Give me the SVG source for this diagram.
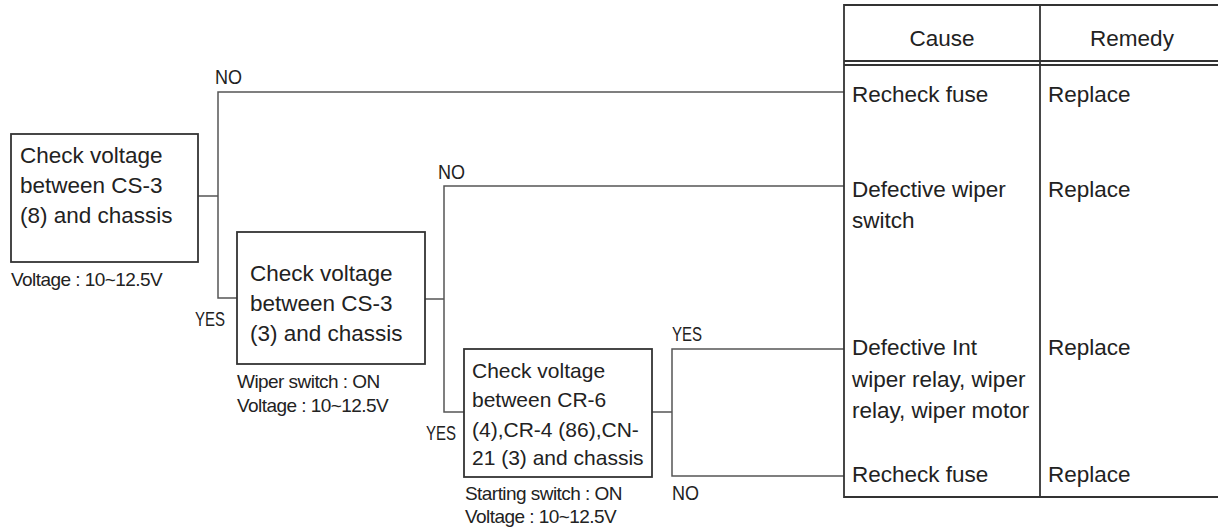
<svg xmlns="http://www.w3.org/2000/svg" width="1218" height="528" viewBox="0 0 1218 528">
<style>
text{font-family:"Liberation Sans",Arial,sans-serif;fill:#222}
.box{fill:#fff;stroke:#333;stroke-width:1.8}
.bt{font-size:22.5px}
.bt3{font-size:21px}
.sm{font-size:19px;letter-spacing:-0.55px}
.lb{font-size:20px}
.tt{font-size:22.5px}
.ln{fill:none;stroke:#555;stroke-width:1.5}
.tb{fill:none;stroke:#333;stroke-width:1.8}
</style>
<rect width="1218" height="528" fill="#fff"/>
<g id="connectors">
<polyline class="ln" points="198,196 218,196"/>
<polyline class="ln" points="844,92 218,92 218,298 237,298"/>
<polyline class="ln" points="425,299 444,299"/>
<polyline class="ln" points="844,186 444,186 444,412 464,412"/>
<polyline class="ln" points="652,412 672,412"/>
<polyline class="ln" points="844,349 672,349 672,476 844,476"/>
<text class="lb" x="215" y="84" textLength="27" lengthAdjust="spacingAndGlyphs">NO</text>
<text class="lb" x="195" y="326" textLength="30" lengthAdjust="spacingAndGlyphs">YES</text>
<text class="lb" x="438" y="179" textLength="27" lengthAdjust="spacingAndGlyphs">NO</text>
<text class="lb" x="426" y="440" textLength="30" lengthAdjust="spacingAndGlyphs">YES</text>
<text class="lb" x="672" y="341" textLength="30" lengthAdjust="spacingAndGlyphs">YES</text>
<text class="lb" x="672" y="500" textLength="27" lengthAdjust="spacingAndGlyphs">NO</text>
</g>
<g id="node1">
<rect class="box" x="11" y="134" width="187" height="128"/>
<text class="bt" x="20" y="163">Check voltage</text>
<text class="bt" x="20" y="193">between CS-3</text>
<text class="bt" x="20" y="223">(8) and chassis</text>
<text class="sm" x="11" y="286">Voltage : 10~12.5V</text>
</g>
<g id="node2">
<rect class="box" x="237" y="232" width="188" height="132"/>
<text class="bt" x="250" y="281">Check voltage</text>
<text class="bt" x="250" y="311">between CS-3</text>
<text class="bt" x="250" y="341">(3) and chassis</text>
<text class="sm" x="237" y="388">Wiper switch : ON</text>
<text class="sm" x="237" y="412">Voltage : 10~12.5V</text>
</g>
<g id="node3">
<rect class="box" x="464" y="349" width="188" height="128"/>
<text class="bt3" x="472" y="378">Check voltage</text>
<text class="bt3" x="472" y="407">between CR-6</text>
<text class="bt3" x="472" y="437">(4),CR-4 (86),CN-</text>
<text class="bt3" x="472" y="465">21 (3) and chassis</text>
<text class="sm" x="465" y="500">Starting switch : ON</text>
<text class="sm" x="465" y="523">Voltage : 10~12.5V</text>
</g>
<g id="table">
<polyline class="tb" points="1219,5 844,5 844,497 1219,497"/>
<line class="tb" x1="1040" y1="5" x2="1040" y2="497"/>
<line class="tb" x1="844" y1="61" x2="1219" y2="61" stroke-width="1.2"/>
<line class="tb" x1="844" y1="65" x2="1219" y2="65" stroke-width="1.2"/>
<text class="tt" x="942" y="46" text-anchor="middle">Cause</text>
<text class="tt" x="1132" y="46" text-anchor="middle">Remedy</text>
<text class="tt" x="852" y="102">Recheck fuse</text>
<text class="tt" x="1048" y="102">Replace</text>
<text class="tt" x="852" y="197">Defective wiper</text>
<text class="tt" x="852" y="228">switch</text>
<text class="tt" x="1048" y="197">Replace</text>
<text class="tt" x="852" y="355">Defective Int</text>
<text class="tt" x="852" y="387">wiper relay, wiper</text>
<text class="tt" x="852" y="418">relay, wiper motor</text>
<text class="tt" x="1048" y="355">Replace</text>
<text class="tt" x="852" y="482">Recheck fuse</text>
<text class="tt" x="1048" y="482">Replace</text>
</g>
</svg>
